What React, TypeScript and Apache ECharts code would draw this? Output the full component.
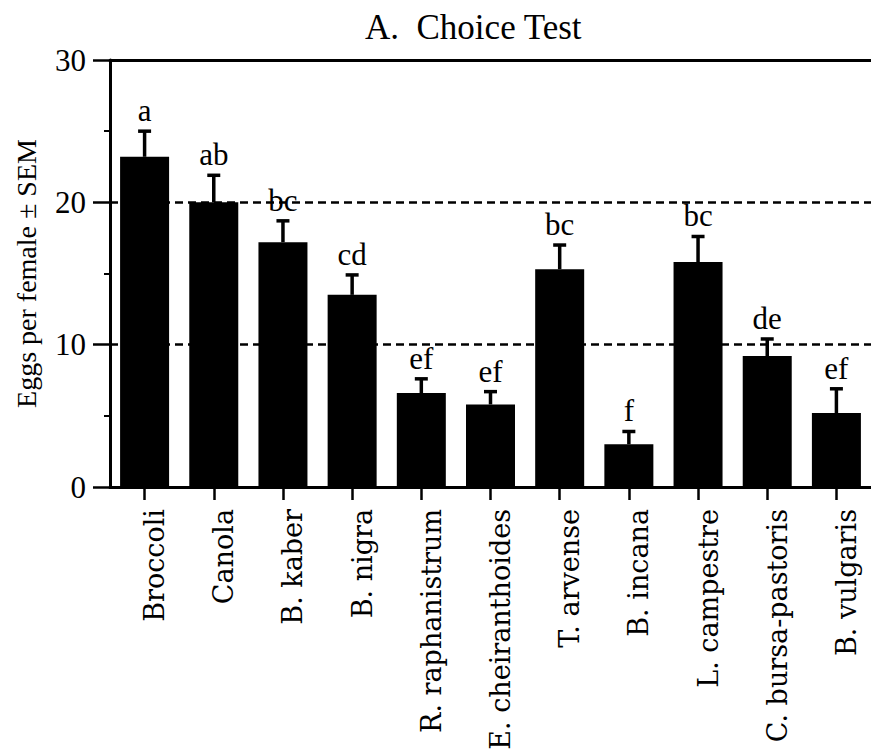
import React, { useEffect, useRef } from "react";
import * as echarts from "echarts";

const categories = [
  "Broccoli",
  "Canola",
  "B. kaber",
  "B. nigra",
  "R. raphanistrum",
  "E. cheiranthoides",
  "T. arvense",
  "B. incana",
  "L. campestre",
  "C. bursa-pastoris",
  "B. vulgaris",
];
const eggs = [23.2, 20.0, 17.2, 13.5, 6.6, 5.8, 15.3, 3.0, 15.8, 9.2, 5.2];
const sem = [1.8, 1.9, 1.5, 1.4, 1.0, 0.9, 1.7, 0.9, 1.8, 1.2, 1.7];
const letters = ["a", "ab", "bc", "cd", "ef", "ef", "bc", "f", "bc", "de", "ef"];
const yTicks = [0, 10, 20, 30];

const SERIF = "'Liberation Serif', 'Times New Roman', serif";
const LABEL_SERIF = "'DejaVu Serif', serif";

export default function App() {
  const ref = useRef<HTMLDivElement>(null);
  useEffect(() => {
    if (!ref.current) return;
    const chart = echarts.init(ref.current, null, { renderer: "svg" });
    const errData = eggs.map((v, i) => [i, v, v + sem[i]]);
    chart.setOption({
      animation: false,
      backgroundColor: "#fff",
      title: {
        text: "A.  Choice Test",
        left: 360,
        top: 5,
        textStyle: { fontFamily: SERIF, fontSize: 35, fontWeight: "normal", color: "#000" },
      },
      grid: { left: 110, top: 60, width: 763, height: 427, containLabel: false },
      xAxis: [
        {
          type: "category",
          data: categories,
          position: "bottom",
          axisLine: { show: true, lineStyle: { color: "#000", width: 3 } },
          axisTick: { show: true, alignWithLabel: true, length: 13, lineStyle: { color: "#000", width: 2.5 } },
          axisLabel: {
            interval: 0,
            rotate: 90,
            margin: 22,
            color: "#000",
            fontFamily: LABEL_SERIF,
            fontSize: 27,
            verticalAlign: "top",
            lineHeight: 20,
          },
          splitLine: { show: false },
        },
        {
          type: "category",
          data: categories,
          position: "top",
          axisLine: { show: true, lineStyle: { color: "#000", width: 3 } },
          axisTick: { show: false },
          axisLabel: { show: false },
          splitLine: { show: false },
        },
      ],
      yAxis: {
        type: "value",
        min: yTicks[0],
        max: yTicks[yTicks.length - 1],
        interval: 10,
        name: "Eggs per female ± SEM",
        nameLocation: "middle",
        nameGap: 70,
        nameTextStyle: { fontFamily: SERIF, fontSize: 28, color: "#000" },
        axisLine: { show: true, lineStyle: { color: "#000", width: 3 } },
        axisTick: { show: true, length: 17, lineStyle: { color: "#000", width: 2.5 } },
        minorTick: { show: true, splitNumber: 2, length: 6, lineStyle: { color: "#000", width: 2 } },
        axisLabel: { margin: 24, color: "#000", fontFamily: SERIF, fontSize: 31 },
        splitLine: {
          show: true,
          showMinLine: false,
          showMaxLine: false,
          lineStyle: { color: "#000", width: 2.5, type: [8, 5] },
        },
      },
      series: [
        {
          type: "bar",
          data: eggs,
          barWidth: 49,
          itemStyle: { color: "#000" },
          z: 2,
        },
        {
          type: "custom",
          data: errData,
          z: 3,
          renderItem: (params: any, api: any) => {
            const i = api.value(0);
            const p0 = api.coord([i, api.value(1)]);
            const p1 = api.coord([i, api.value(2)]);
            const st = { stroke: "#000", lineWidth: 3.5 };
            return {
              type: "group",
              children: [
                { type: "line", shape: { x1: p0[0], y1: p0[1], x2: p1[0], y2: p1[1] }, style: st },
                { type: "line", shape: { x1: p1[0] - 6.5, y1: p1[1], x2: p1[0] + 6.5, y2: p1[1] }, style: st },
                {
                  type: "text",
                  x: p1[0],
                  y: p1[1] - 5,
                  style: {
                    text: letters[params.dataIndex],
                    font: `31px ${SERIF}`,
                    fill: "#000",
                    align: "center",
                    verticalAlign: "bottom",
                    textAlign: "center",
                    textVerticalAlign: "bottom",
                  },
                },
              ],
            };
          },
        },
      ],
    });
    return () => chart.dispose();
  }, []);
  return (
    <div
      ref={ref}
      style={{ position: "absolute", left: 0, top: 0, width: 871, height: 756 }}
    />
  );
}
